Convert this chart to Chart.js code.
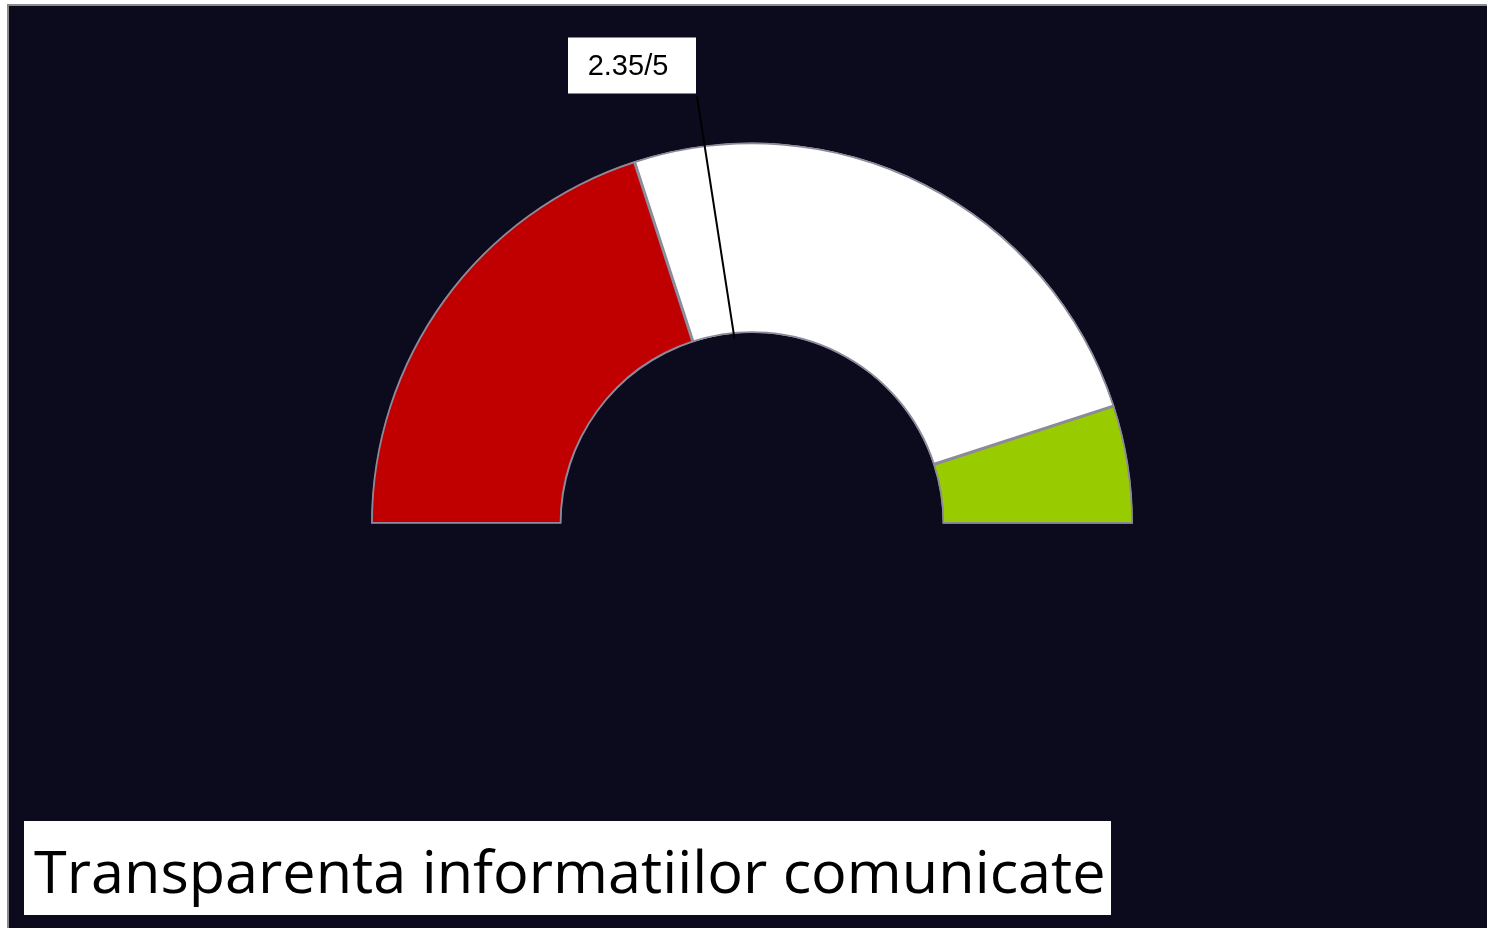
<!DOCTYPE html>
<html>
<head>
<meta charset="utf-8">
<script src="https://cdn.jsdelivr.net/npm/chart.js@4"></script>
<style>
  html, body { margin: 0; padding: 0; background: #ffffff; overflow: hidden; }
  #frame {
    position: absolute; left: 7px; top: 4px; width: 1500px; height: 940px;
    background: #0b0b1d; border-left: 2px solid #8a8a8a; border-top: 2px solid #8a8a8a;
  }
  #wrap { position: absolute; left: 0; top: 0; width: 1487px; height: 928px; }
  #title {
    position: absolute; left: 24px; top: 821px; width: 1087px; height: 94px;
    background: #ffffff; color: #000000; box-sizing: border-box; padding-left: 10px;
    font-family: "Open Sans", "Noto Sans", sans-serif; font-size: 59.4px; line-height: 98px;
    white-space: nowrap;
  }
</style>
</head>
<body>
<div id="frame"></div>
<div id="wrap"><canvas id="gauge"></canvas></div>
<div id="title">Transparenta informatiilor comunicate</div>
<script>
// Gauge bands (score scale 0..5)
const bandLabels = ['Scazut', 'Mediu', 'Ridicat'];
const bandValues = [2, 2.5, 0.5];
const bandColors = ['#c00000', '#ffffff', '#99cc00'];
const score = 2.35;
const maxScore = 5;
const scoreText = score + '/' + maxScore;

// Draws the score label box and its leader line onto the gauge
const needlePlugin = {
  id: 'needle',
  afterDraw(chart) {
    const arc = chart.getDatasetMeta(0).data[0];
    if (!arc) return;
    const { x, y, innerRadius } = arc.getProps(['x', 'y', 'innerRadius'], true);
    const ctx = chart.ctx;
    const angle = -Math.PI + (score / maxScore) * Math.PI;
    const endX = x + Math.cos(angle) * (innerRadius - 5);
    const endY = y + Math.sin(angle) * (innerRadius - 5);

    // label box above the gauge
    const boxW = 128, boxH = 56;
    const boxX = x - 184, boxY = y - 486;

    ctx.save();
    ctx.strokeStyle = '#000000';
    ctx.lineWidth = 2;
    ctx.beginPath();
    ctx.moveTo(boxX + boxW + 1, boxY + boxH + 3);
    ctx.lineTo(endX, endY);
    ctx.stroke();

    ctx.fillStyle = '#ffffff';
    ctx.fillRect(boxX, boxY, boxW, boxH);
    ctx.fillStyle = '#000000';
    ctx.font = '29px "Liberation Sans", Arial, sans-serif';
    ctx.textAlign = 'center';
    ctx.textBaseline = 'middle';
    ctx.fillText(scoreText, boxX + boxW / 2 - 4, boxY + boxH / 2 + 1);
    ctx.restore();
  }
};

const ctx = document.getElementById('gauge').getContext('2d');
new Chart(ctx, {
  type: 'doughnut',
  data: {
    labels: bandLabels,
    datasets: [{
      data: bandValues,
      backgroundColor: bandColors,
      borderColor: '#8a8a9a',
      borderWidth: 1.5,
      borderAlign: 'inner'
    }]
  },
  options: {
    responsive: true,
    maintainAspectRatio: false,
    animation: false,
    rotation: -90,
    circumference: 180,
    cutout: '50%',
    layout: {
      padding: { left: 371, right: 354, top: 142, bottom: 404 }
    },
    plugins: {
      legend: { display: false },
      tooltip: { enabled: false }
    }
  },
  plugins: [needlePlugin]
});
</script>
</body>
</html>
